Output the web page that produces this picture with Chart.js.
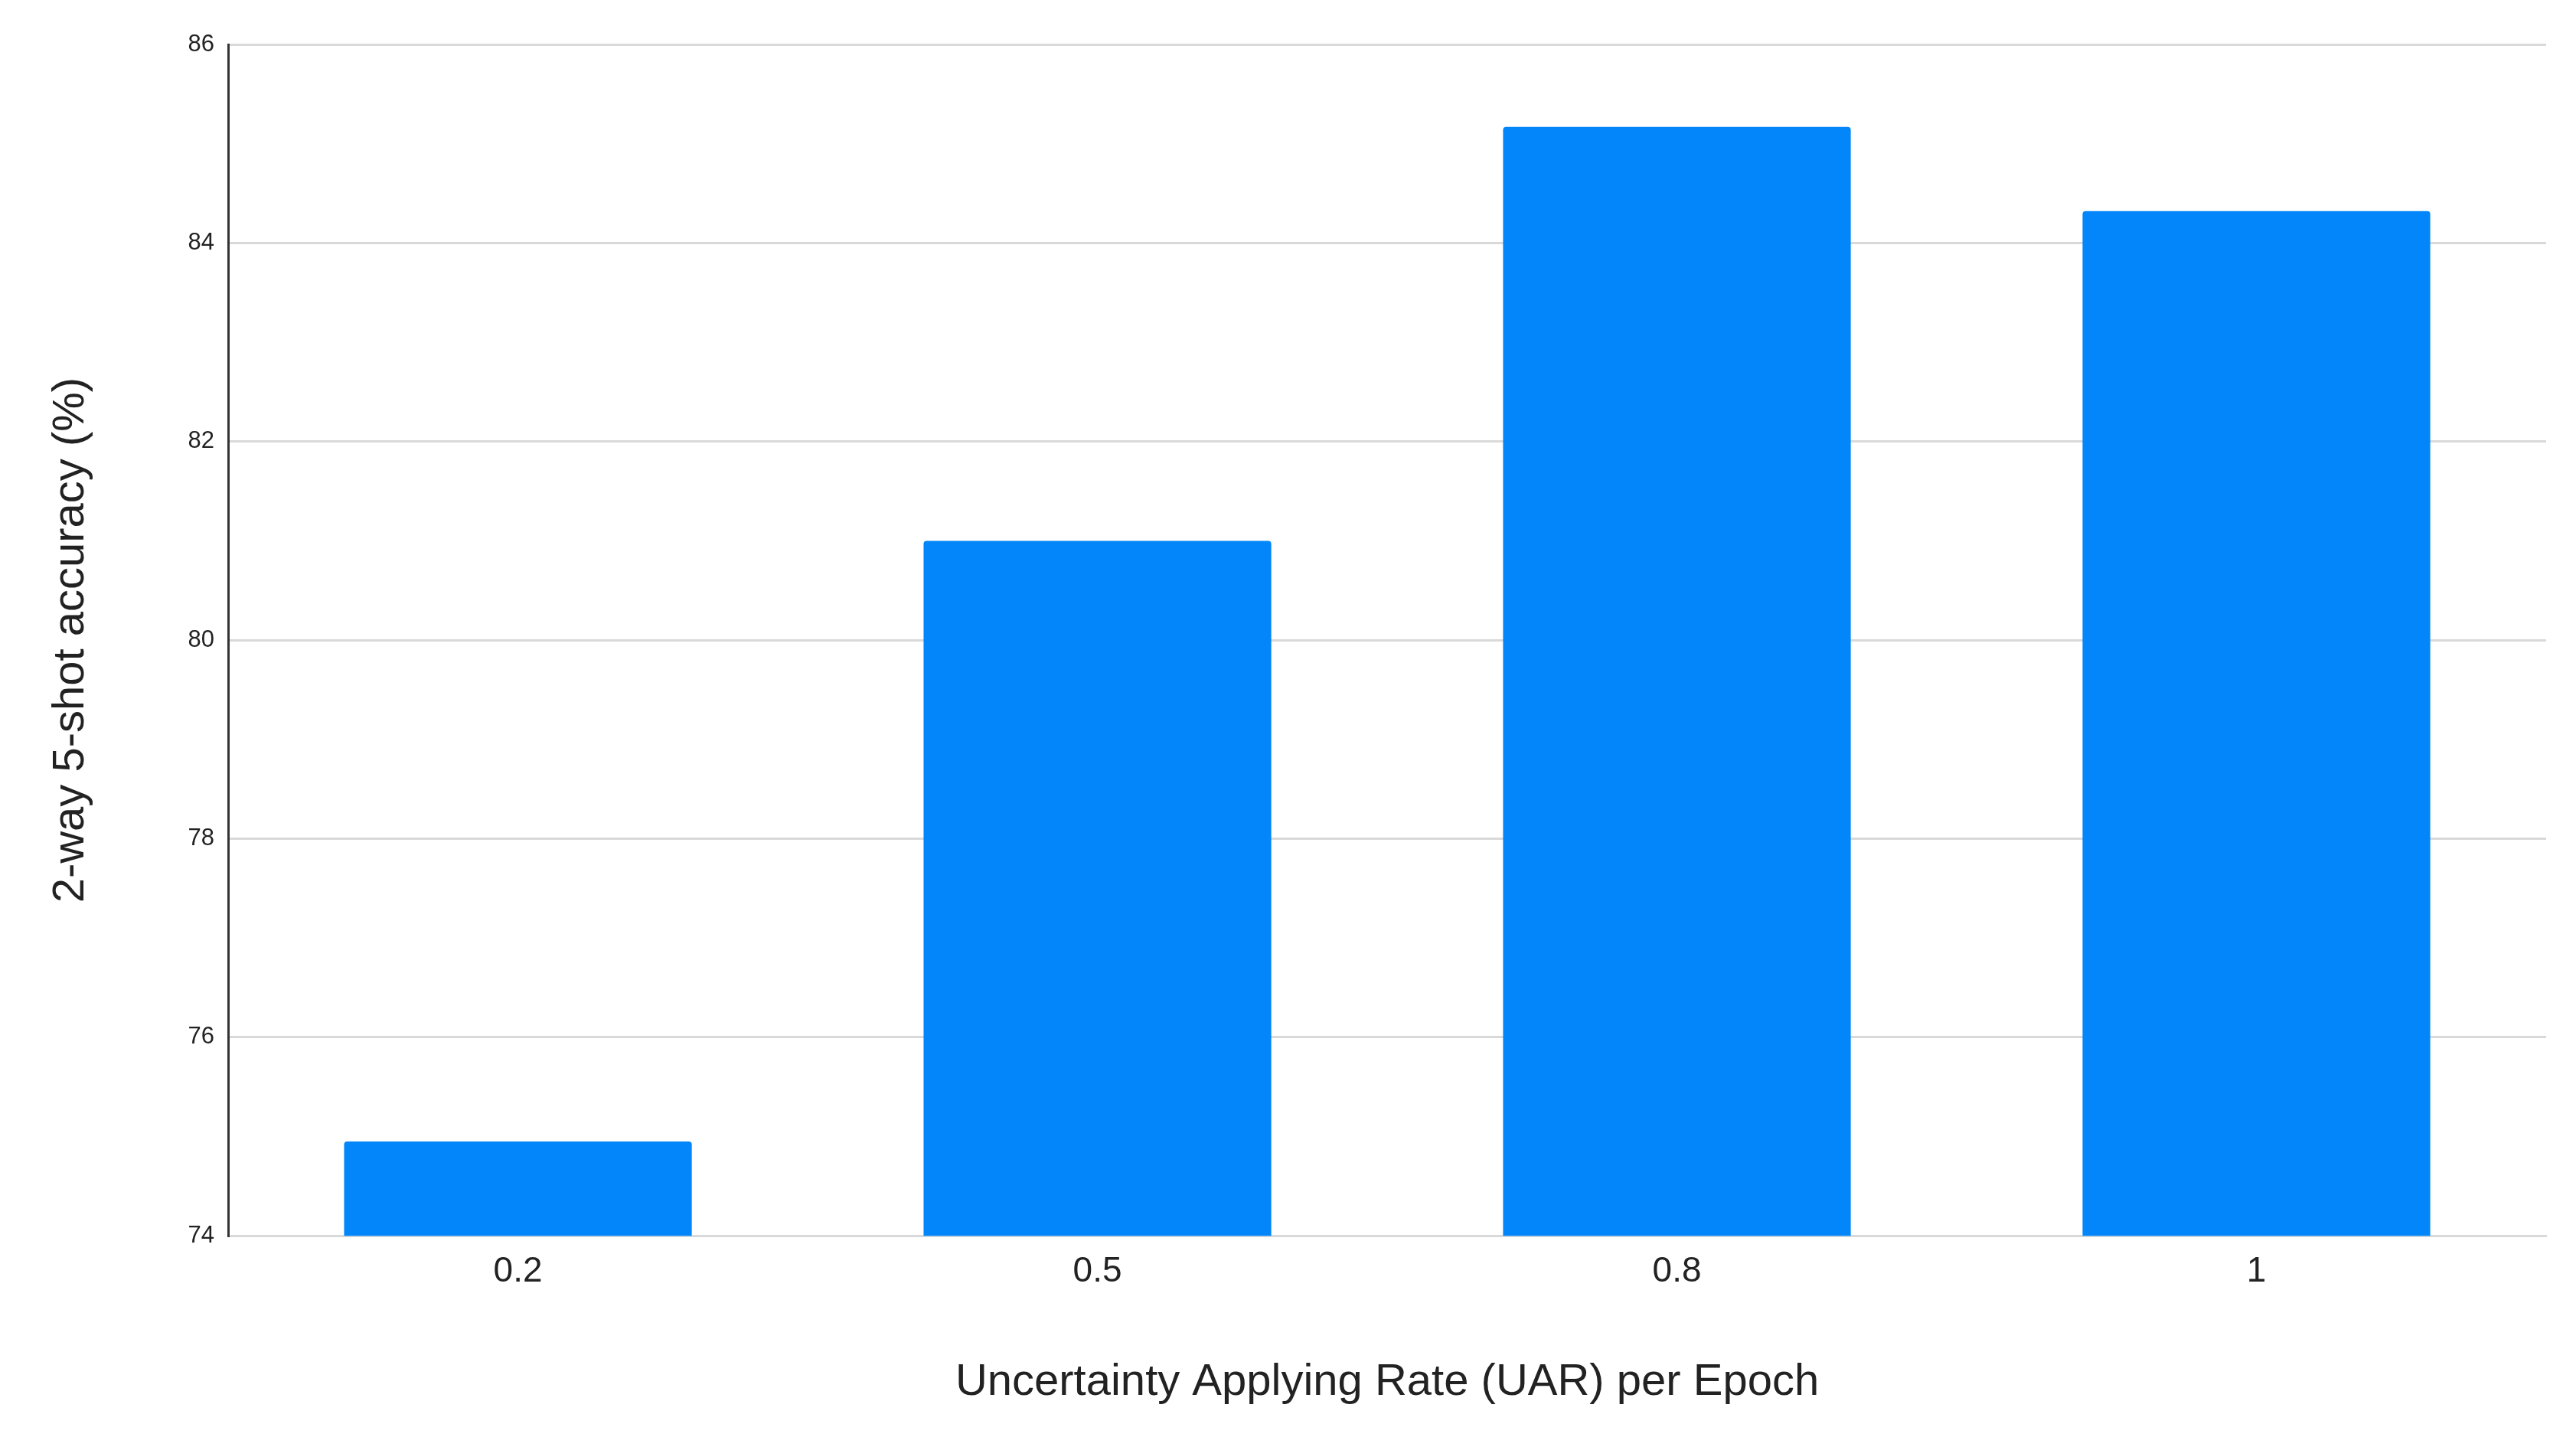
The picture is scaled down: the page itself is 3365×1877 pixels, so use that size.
<!DOCTYPE html>
<html>
<head>
<meta charset="utf-8">
<script src="https://cdn.jsdelivr.net/npm/chart.js@4"></script>
<style>
  html, body { margin: 0; padding: 0; background: #fff; }
  #wrap { width: 3365px; height: 1877px; }
</style>
</head>
<body>
<div id="wrap"><canvas id="chart"></canvas></div>
<script>
const categories = ["0.2", "0.5", "0.8", "1"]
const accuracy = [74.95, 81.0, 85.17, 84.32]
const yTicks = [74, 76, 78, 80, 82, 84, 86]

new Chart(document.getElementById("chart"), {
    type: "bar",
    data: {
        labels: categories,
        datasets: [{
            data: accuracy,
            backgroundColor: "#0286f9",
            borderWidth: 0,
            borderRadius: { topLeft: 4, topRight: 4 },
            borderSkipped: "bottom",
            categoryPercentage: 0.6,
            barPercentage: 1
        }]
    },
    options: {
        responsive: true,
        maintainAspectRatio: false,
        devicePixelRatio: 1,
        animation: false,
        layout: { padding: { top: 58, right: 39, bottom: 36, left: 58 } },
        plugins: { legend: { display: false }, tooltip: { enabled: false } },
        scales: {
            x: {
                grid: { display: false, drawTicks: false },
                border: { color: "#d9d9d9", width: 3 },
                ticks: { color: "#222", font: { family: "Arial, 'Liberation Sans'", size: 46 }, padding: 20 },
                title: {
                    display: true,
                    text: "Uncertainty Applying Rate (UAR) per Epoch",
                    color: "#222",
                    font: { family: "Arial, 'Liberation Sans'", size: 58 },
                    padding: { top: 62, bottom: 0 }
                }
            },
            y: {
                min: 74,
                max: 86,
                afterBuildTicks: axis => { axis.ticks = yTicks.map(v => ({ value: v })) },
                grid: { color: "#d9d9d9", lineWidth: 3, drawTicks: false },
                border: { color: "#333", width: 3 },
                ticks: { color: "#222", font: { family: "Arial, 'Liberation Sans'", size: 31 }, padding: 18 },
                title: {
                    display: true,
                    text: "2-way 5-shot accuracy (%)",
                    color: "#222",
                    font: { family: "Arial, 'Liberation Sans'", size: 58 },
                    padding: { top: 0, bottom: 100 }
                }
            }
        }
    }
})
</script>
</body>
</html>
